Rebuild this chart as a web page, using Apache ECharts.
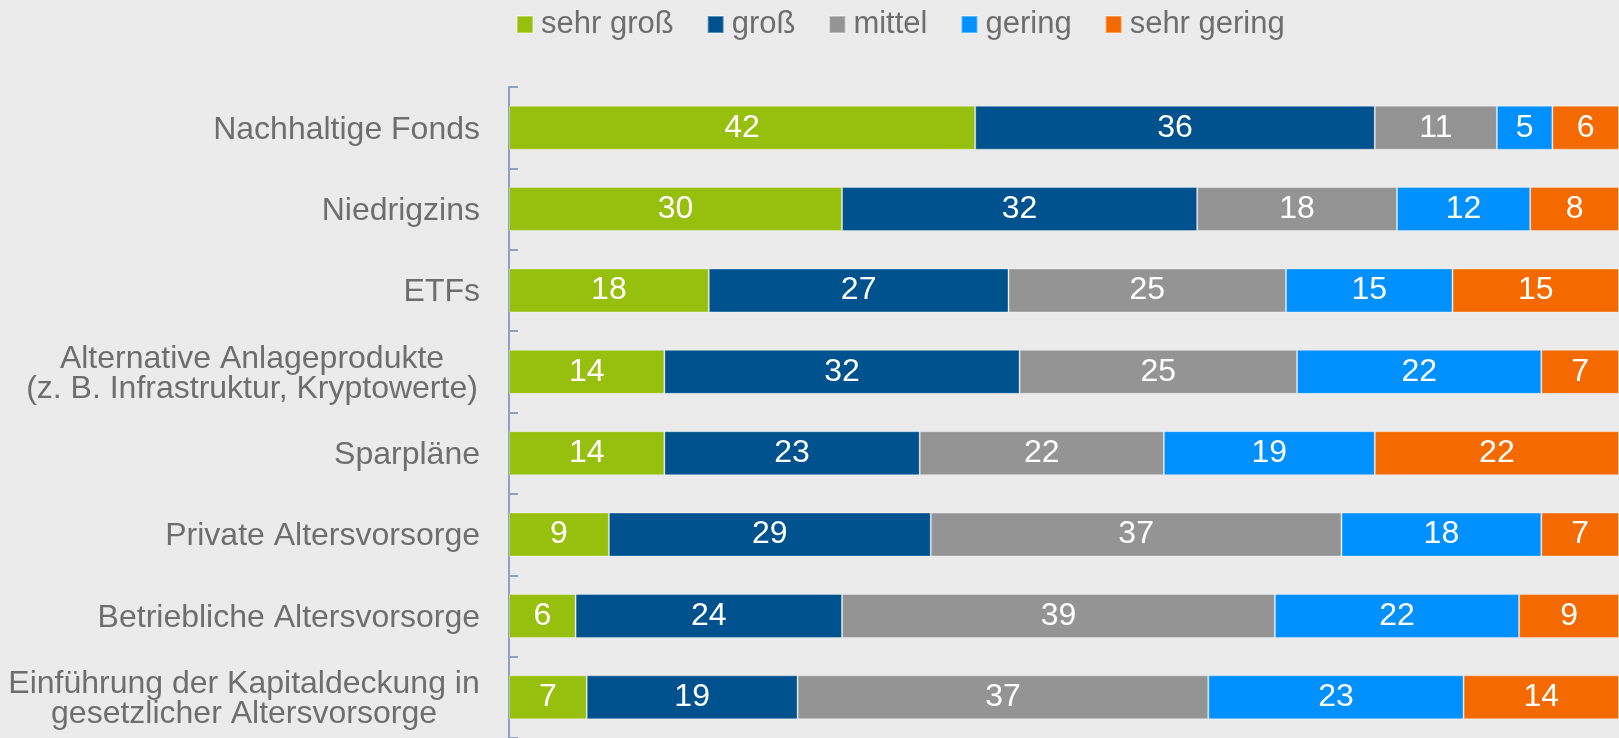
<!DOCTYPE html>
<html>
<head>
<meta charset="utf-8">
<script src="https://cdn.jsdelivr.net/npm/echarts@6/dist/echarts.min.js"></script>
<style>
html,body{margin:0;padding:0;background:#EBEBEB;}
#c{width:1619px;height:738px;}
</style>
</head>
<body>
<div id="c"></div>
<script>
const categories = [
  'Nachhaltige Fonds',
  'Niedrigzins',
  'ETFs',
  'Alternative Anlageprodukte\n(z. B. Infrastruktur, Kryptowerte)',
  'Sparpläne',
  'Private Altersvorsorge',
  'Betriebliche Altersvorsorge',
  'Einführung der Kapitaldeckung in\ngesetzlicher Altersvorsorge'
];
const seriesNames = ['sehr groß', 'groß', 'mittel', 'gering', 'sehr gering'];
const sehrGross  = [42, 30, 18, 14, 14, 9, 6, 7];
const gross      = [36, 32, 27, 32, 23, 29, 24, 19];
const mittel     = [11, 18, 25, 25, 22, 37, 39, 37];
const gering     = [5, 12, 15, 22, 19, 18, 22, 23];
const sehrGering = [6, 8, 15, 7, 22, 7, 9, 14];

const colors = ['#97BF0D', '#00528F', '#949494', '#0090FF', '#F46A00'];
const values = [sehrGross, gross, mittel, gering, sehrGering];
const textColor = '#6E6E6E';
const FONT = '"Liberation Sans", Arial, sans-serif';

const chart = echarts.init(document.getElementById('c'), null, {renderer: 'canvas'});
chart.setOption({
  backgroundColor: '#EBEBEB',
  animation: false,
  color: colors,
  legend: {
    left: 516,
    top: 9,
    padding: 0,
    itemWidth: 16,
    itemHeight: 17,
    itemGap: 33,
    icon: 'rect',
    textStyle: {fontSize: 31, color: textColor, fontFamily: FONT, padding: [2, 0, 0, 3]},
    data: seriesNames
  },
  grid: {left: 509, right: 0, top: 87, height: 656, containLabel: false},
  xAxis: {
    type: 'value', min: 0, max: 100,
    show: false,
    splitLine: {show: false}
  },
  yAxis: {
    type: 'category',
    inverse: true,
    data: categories,
    axisLine: {show: true, lineStyle: {color: '#8FA1BF', width: 2}},
    axisTick: {show: true, inside: true, length: 9, lineStyle: {color: '#8FA1BF', width: 2}},
    axisLabel: {
      margin: 29,
      fontSize: 32,
      lineHeight: 31,
      color: textColor,
      fontFamily: FONT,
      padding: [4, 0, 0, 0],
      formatter: function (v) {
        if (v.indexOf('\n') >= 0) {
          const key = v.indexOf('Alternative') === 0 ? 'a' : 'e';
          return v.split('\n').map(function (l) { return '{' + key + '|' + l + '}'; }).join('\n');
        }
        return v;
      },
      rich: {
        a: {width: 456, align: 'center', fontSize: 32, lineHeight: 30, color: textColor, fontFamily: FONT},
        e: {width: 472, align: 'center', fontSize: 32, lineHeight: 30, color: textColor, fontFamily: FONT}
      }
    }
  },
  series: seriesNames.map(function (name, i) {
    return {
      name: name,
      type: 'bar',
      stack: 'total',
      barWidth: 44,
      data: values[i],
      itemStyle: {color: colors[i], borderColor: 'rgba(255,255,255,0.35)', borderWidth: 1},
      label: {
        show: true,
        position: 'inside',
        color: '#FFFFFF',
        fontSize: 32,
        fontFamily: FONT,
        padding: [3, 0, 0, 0]
      }
    };
  })
});
</script>
</body>
</html>
